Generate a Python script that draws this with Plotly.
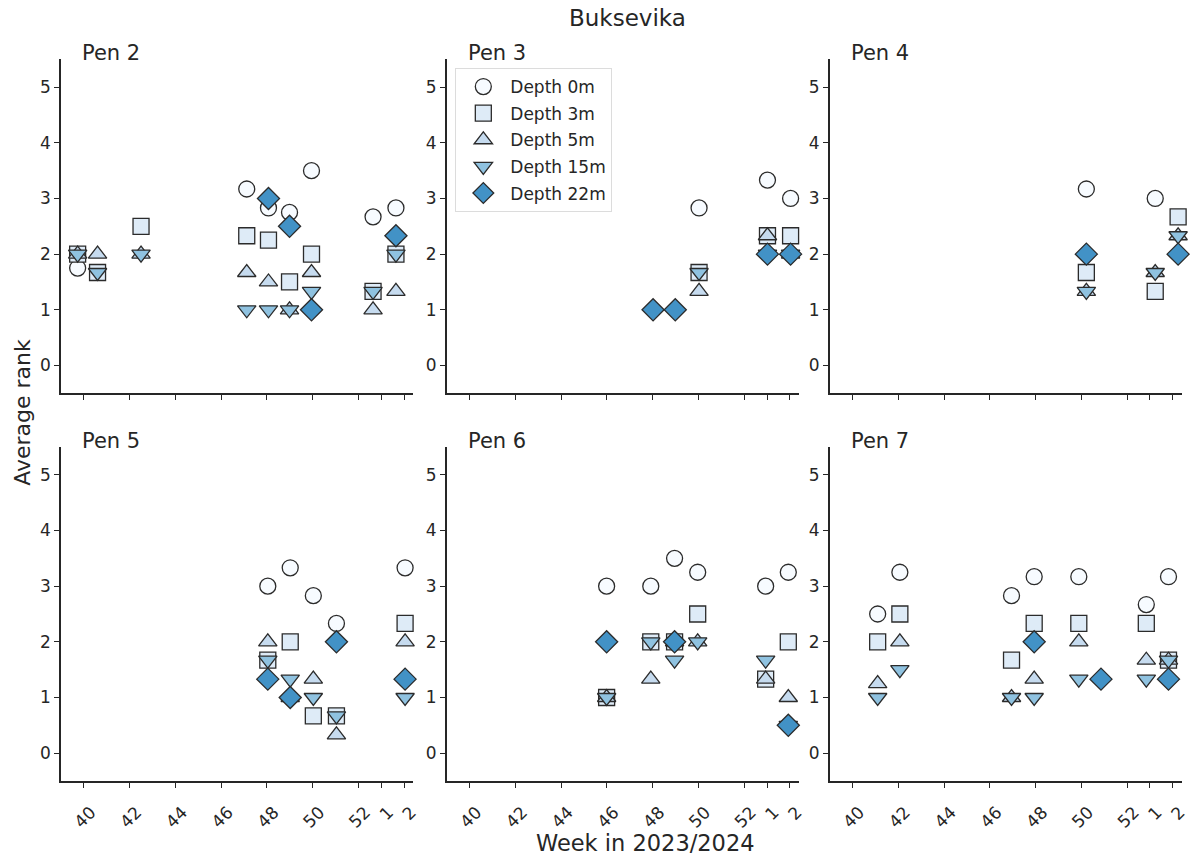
import plotly.graph_objects as go

# ---------------- data ----------------
tick_weeks = [40, 42, 44, 46, 48, 50, 52, 53, 54]
tick_labels = ["40", "42", "44", "46", "48", "50", "52", "1", "2"]
depth_labels = ["Depth 0m", "Depth 3m", "Depth 5m", "Depth 15m", "Depth 22m"]
pen_names = ["Pen 2", "Pen 3", "Pen 4", "Pen 5", "Pen 6", "Pen 7"]

pen2_weeks = [39.73, 40.6, 42.5, 47.12, 48.07, 48.99, 49.95, 52.64, 53.64]
pen2_d0 = [1.75, None, None, 3.17, 2.83, 2.75, 3.5, 2.67, 2.83]
pen2_d3 = [2.0, 1.67, 2.5, 2.33, 2.25, 1.5, 2.0, 1.33, 2.0]
pen2_d5 = [2.0, 2.0, 2.0, 1.67, 1.5, 1.0, 1.67, 1.0, 1.33]
pen2_d15 = [2.0, 1.67, 2.0, 1.0, 1.0, 1.0, 1.33, 1.33, 2.0]
pen2_d22 = [None, None, None, None, 3.0, 2.5, 1.0, None, 2.33]

pen3_weeks = [48.02, 48.99, 50.03, 53.02, 54.03]
pen3_d0 = [None, None, 2.83, 3.33, 3.0]
pen3_d3 = [None, None, 1.67, 2.33, 2.33]
pen3_d5 = [None, None, 1.33, 2.33, 2.0]
pen3_d15 = [None, None, 1.67, 2.0, 2.0]
pen3_d22 = [1.0, 1.0, None, 2.0, 2.0]

pen4_weeks = [50.22, 53.23, 54.23]
pen4_d0 = [3.17, 3.0, None]
pen4_d3 = [1.67, 1.33, 2.67]
pen4_d5 = [1.33, 1.67, 2.33]
pen4_d15 = [1.33, 1.67, 2.33]
pen4_d22 = [2.0, None, 2.0]

pen5_weeks = [48.04, 49.02, 50.03, 51.04, 54.04]
pen5_d0 = [3.0, 3.33, 2.83, 2.33, 3.33]
pen5_d3 = [1.67, 2.0, 0.67, 0.67, 2.33]
pen5_d5 = [2.0, 1.0, 1.33, 0.33, 2.0]
pen5_d15 = [1.67, 1.33, 1.0, 0.67, 1.0]
pen5_d22 = [1.33, 1.0, None, 2.0, 1.33]

pen6_weeks = [45.99, 47.92, 48.96, 49.97, 52.94, 53.93]
pen6_d0 = [3.0, 3.0, 3.5, 3.25, 3.0, 3.25]
pen6_d3 = [1.0, 2.0, 2.0, 2.5, 1.33, 2.0]
pen6_d5 = [1.0, 1.33, 2.0, 2.0, 1.33, 1.0]
pen6_d15 = [1.0, 2.0, 1.67, 2.0, 1.67, 0.5]
pen6_d22 = [2.0, None, 2.0, None, None, 0.5]

pen7_weeks = [41.1, 42.07, 46.95, 47.94, 49.89, 50.86, 52.84, 53.81]
pen7_d0 = [2.5, 3.25, 2.83, 3.17, 3.17, None, 2.67, 3.17]
pen7_d3 = [2.0, 2.5, 1.67, 2.33, 2.33, None, 2.33, 1.67]
pen7_d5 = [1.25, 2.0, 1.0, 1.33, 2.0, None, 1.67, 1.67]
pen7_d15 = [1.0, 1.5, 1.0, 1.0, 1.33, None, 1.33, 1.67]
pen7_d22 = [None, None, None, 2.0, None, 1.33, None, 1.33]

pens = [
    (pen2_weeks, [pen2_d0, pen2_d3, pen2_d5, pen2_d15, pen2_d22]),
    (pen3_weeks, [pen3_d0, pen3_d3, pen3_d5, pen3_d15, pen3_d22]),
    (pen4_weeks, [pen4_d0, pen4_d3, pen4_d5, pen4_d15, pen4_d22]),
    (pen5_weeks, [pen5_d0, pen5_d3, pen5_d5, pen5_d15, pen5_d22]),
    (pen6_weeks, [pen6_d0, pen6_d3, pen6_d5, pen6_d15, pen6_d22]),
    (pen7_weeks, [pen7_d0, pen7_d3, pen7_d5, pen7_d15, pen7_d22]),
]

# ---------------- style ----------------
W, H = 1196, 856
FONT = "DejaVu Sans"
TXT = "#262626"
symbols = ["circle", "square", "triangle-up", "triangle-down", "diamond"]
fills = ["#f7fbff", "#deebf7", "#c6dbef", "#8fc2e0", "#4292c6"]
sizes = [16, 16, 16, 16, 17]

col_px = [(61.3, 415.3), (449.3, 803.3), (834.5, 1188.5)]
row_px = [(59.3, 393.3), (447.0, 781.0)]

fig = go.Figure()
layout = {}
for i, (wk, series) in enumerate(pens):
    r, c = divmod(i, 3)
    n = i + 1
    xa = "x" if n == 1 else f"x{n}"
    ya = "y" if n == 1 else f"y{n}"
    for d in range(5):
        fig.add_trace(go.Scatter(
            x=wk, y=series[d], mode="markers", name=depth_labels[d],
            legendgroup=depth_labels[d], showlegend=(i == 0),
            xaxis=xa, yaxis=ya,
            marker=dict(symbol=symbols[d], size=sizes[d], color=fills[d],
                        line=dict(color="#2b2b2b", width=1.3)),
            cliponaxis=False,
        ))
    x0, x1 = col_px[c]
    y0, y1 = row_px[r]
    xkey = "xaxis" if n == 1 else f"xaxis{n}"
    ykey = "yaxis" if n == 1 else f"yaxis{n}"
    layout[xkey] = dict(
        domain=[x0 / W, x1 / W], anchor=ya, range=[39.0, 54.38],
        tickmode="array", tickvals=tick_weeks, ticktext=tick_labels,
        showticklabels=(r == 1), tickangle=-45,
        ticklabelstandoff=8, ticklabelshift=7,
        ticks="outside", ticklen=5, tickwidth=1.3, tickcolor=TXT,
        showline=True, linecolor=TXT, linewidth=1.5,
        showgrid=False, zeroline=False,
        tickfont=dict(family=FONT, size=17, color=TXT),
    )
    layout[ykey] = dict(
        domain=[1 - y1 / H, 1 - y0 / H], anchor=xa, range=[-0.5, 5.5],
        tickmode="array", tickvals=[0, 1, 2, 3, 4, 5],
        ticks="outside", ticklen=5, tickwidth=1.3, tickcolor=TXT,
        showline=True, linecolor=TXT, linewidth=1.5,
        showgrid=False, zeroline=False,
        tickfont=dict(family=FONT, size=17, color=TXT),
    )

annotations = []
for i, name in enumerate(pen_names):
    r, c = divmod(i, 3)
    annotations.append(dict(
        text=name, xref="paper", yref="paper",
        x=(col_px[c][0] + 19) / W, y=1 - (row_px[r][0] - 6) / H,
        xanchor="left", yanchor="middle", showarrow=False,
        font=dict(family=FONT, size=21, color=TXT)))
annotations.append(dict(text="Buksevika", xref="paper", yref="paper",
                        x=631 / W, y=1 - 18 / H, xanchor="center", yanchor="middle",
                        showarrow=False, font=dict(family=FONT, size=23, color=TXT)))
annotations.append(dict(text="Week in 2023/2024", xref="paper", yref="paper",
                        x=649 / W, y=1 - 843 / H, xanchor="center", yanchor="middle",
                        showarrow=False, font=dict(family=FONT, size=22.5, color=TXT)))
annotations.append(dict(text="Average rank", xref="paper", yref="paper",
                        x=22 / W, y=1 - 412 / H, xanchor="center", yanchor="middle",
                        textangle=-90, showarrow=False,
                        font=dict(family=FONT, size=22, color=TXT)))

fig.update_layout(
    width=W, height=H, autosize=False,
    margin=dict(l=0, r=0, t=0, b=0),
    paper_bgcolor="white", plot_bgcolor="white",
    font=dict(family=FONT, color=TXT),
    annotations=annotations,
    legend=dict(x=458 / W, y=1 - 68 / H, xanchor="left", yanchor="top",
                bgcolor="rgba(255,255,255,0.9)", bordercolor="#dcdcdc", borderwidth=1,
                tracegroupgap=1.5, itemwidth=44,
                font=dict(family=FONT, size=17, color=TXT)),
    **layout,
)

fig.write_html(
    "out.html", config={"displayModeBar": False},
    post_script=("document.documentElement.style.margin='0px';"
                 "document.documentElement.style.overflow='hidden';"
                 "document.body.style.margin='0px';"
                 "document.body.style.overflow='hidden';"))
